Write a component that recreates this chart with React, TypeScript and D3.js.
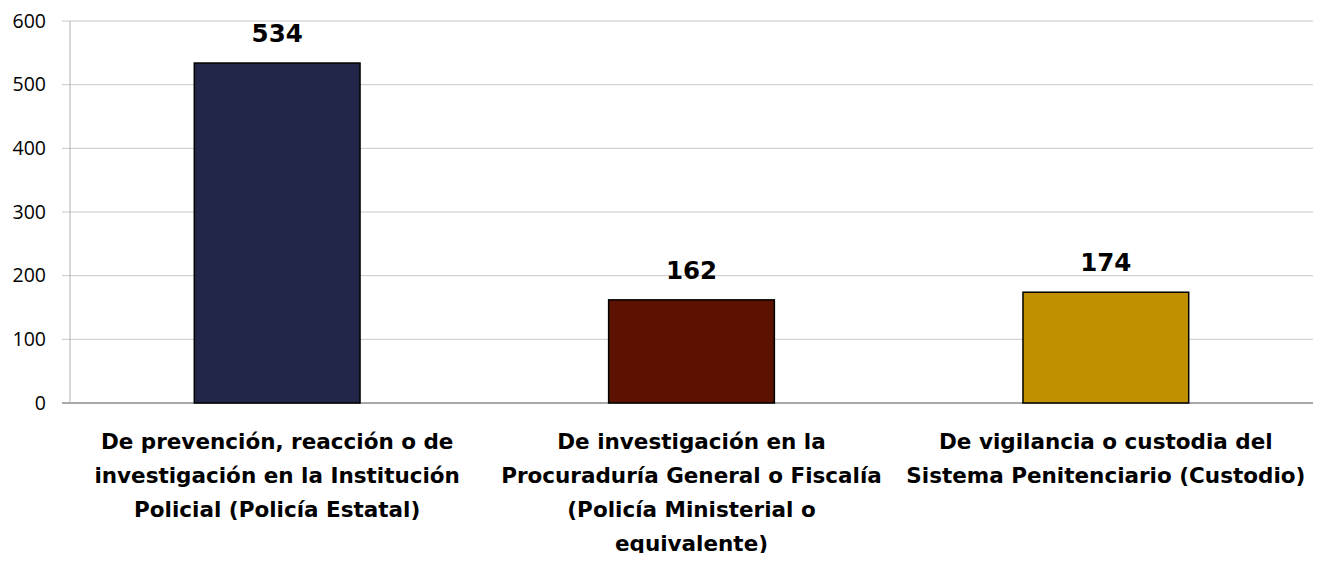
import React, { useEffect, useRef } from 'react';
import * as d3 from 'd3';

const categories = [
  'De prevención, reacción o de investigación en la Institución Policial (Policía Estatal)',
  'De investigación en la Procuraduría General o Fiscalía (Policía Ministerial o equivalente)',
  'De vigilancia o custodia del Sistema Penitenciario (Custodio)',
];
const labelLines = [
  ['De prevención, reacción o de', 'investigación en la Institución', 'Policial (Policía Estatal)'],
  ['De investigación en la', 'Procuraduría General o Fiscalía', '(Policía Ministerial o', 'equivalente)'],
  ['De vigilancia o custodia del', 'Sistema Penitenciario (Custodio)'],
];
const values = [534, 162, 174];
const colors = ['#22274a', '#5c1200', '#c09000'];
const yTicks = [0, 100, 200, 300, 400, 500, 600];

const W = 1327;
const H = 561;
const margin = { top: 21, right: 14, bottom: 158, left: 70 };

const App: React.FC = () => {
  const ref = useRef<SVGSVGElement>(null);

  useEffect(() => {
    const svg = d3.select(ref.current);
    svg.selectAll('*').remove();

    const x = d3.scaleBand()
      .domain(categories)
      .range([margin.left, W - margin.right])
      .paddingInner(0.6)
      .paddingOuter(0.3);

    const y = d3.scaleLinear()
      .domain([0, 600])
      .range([H - margin.bottom, margin.top]);

    // gridlines
    svg.append('g')
      .selectAll('line')
      .data(yTicks)
      .join('line')
      .attr('x1', margin.left - 8)
      .attr('x2', W - margin.right)
      .attr('y1', d => y(d))
      .attr('y2', d => y(d))
      .attr('stroke', d => (d === 0 ? '#8c8c8c' : '#c8c8c8'))
      .attr('stroke-width', d => (d === 0 ? 1.3 : 1));

    // y axis line
    svg.append('line')
      .attr('x1', margin.left)
      .attr('x2', margin.left)
      .attr('y1', y(600))
      .attr('y2', y(0))
      .attr('stroke', '#b0b0b0');

    svg.append('g')
      .selectAll('text')
      .data(yTicks)
      .join('text')
      .attr('x', 46)
      .attr('y', d => y(d))
      .attr('dy', '0.35em')
      .attr('text-anchor', 'end')
      .attr('font-family', 'Open Sans, sans-serif')
      .attr('font-size', 19.5)
      .attr('fill', '#000')
      .text(d => d);

    // bars
    svg.append('g')
      .selectAll('rect')
      .data(values)
      .join('rect')
      .attr('x', (d, i) => x(categories[i]) || 0)
      .attr('y', d => y(d))
      .attr('width', x.bandwidth())
      .attr('height', d => y(0) - y(d))
      .attr('fill', (d, i) => colors[i])
      .attr('stroke', '#000')
      .attr('stroke-width', 1.5);

    // value labels
    svg.append('g')
      .selectAll('text')
      .data(values)
      .join('text')
      .attr('x', (d, i) => (x(categories[i]) || 0) + x.bandwidth() / 2)
      .attr('y', d => y(d) - 21)
      .attr('text-anchor', 'middle')
      .attr('font-family', 'DejaVu Sans, sans-serif')
      .attr('font-weight', 'bold')
      .attr('font-size', 24.5)
      .attr('fill', '#000')
      .text(d => d);

    // category labels
    const lab = svg.append('g')
      .selectAll('text')
      .data(labelLines)
      .join('text')
      .attr('x', (d, i) => (x(categories[i]) || 0) + x.bandwidth() / 2)
      .attr('y', 449)
      .attr('text-anchor', 'middle')
      .attr('font-family', 'DejaVu Sans, sans-serif')
      .attr('font-weight', 'bold')
      .attr('font-size', 21.5)
      .attr('fill', '#000');
    lab.each(function (lines) {
      const t = d3.select(this);
      lines.forEach((l, j) => {
        t.append('tspan')
          .attr('x', t.attr('x'))
          .attr('dy', j === 0 ? 0 : 34)
          .text(l);
      });
    });
  }, []);

  return (
    <div style={{ margin: -8 }}>
      <svg ref={ref} width={W} height={H} style={{ display: 'block', background: '#fff' }} />
    </div>
  );
};

export default App;
